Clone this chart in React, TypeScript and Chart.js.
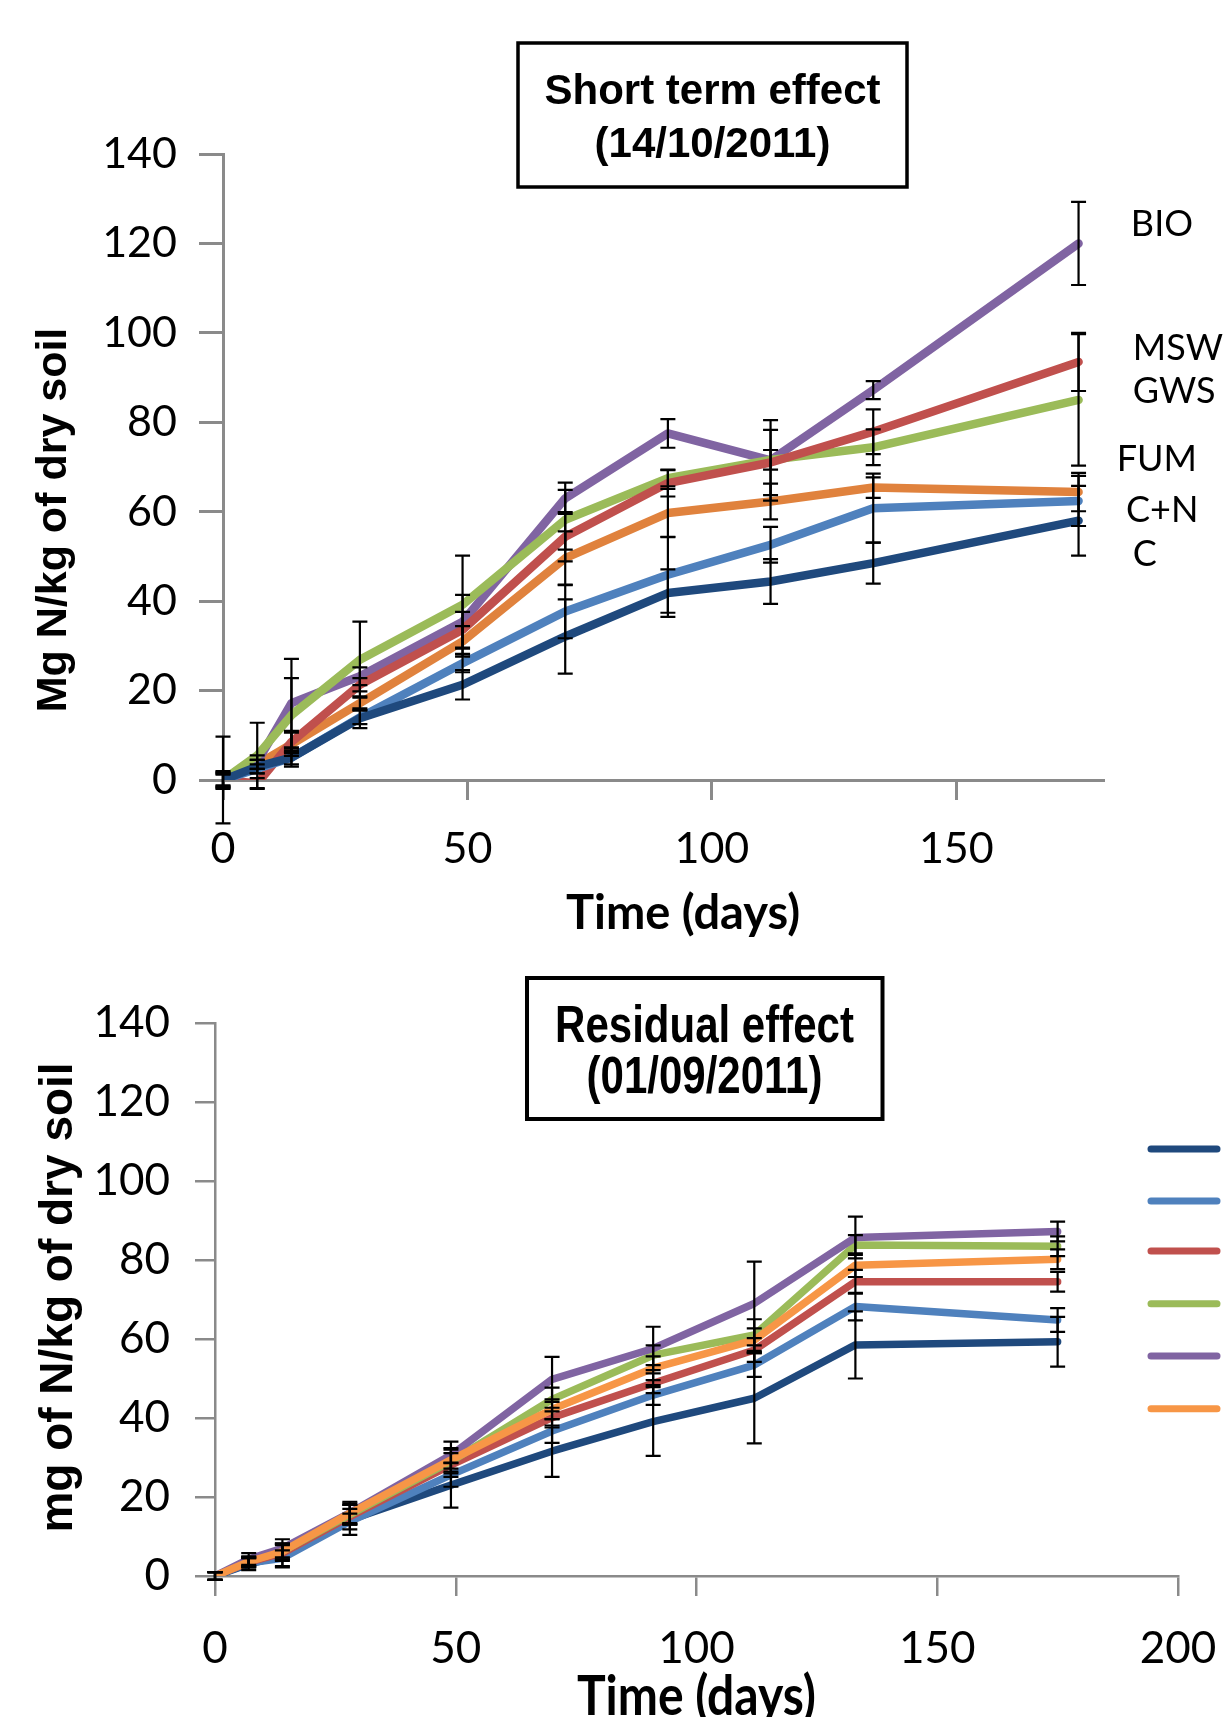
import React, { useEffect, useRef } from 'react';
import { Chart, registerables } from 'chart.js';

Chart.register(...registerables);

// ---------- data ----------
const DAYS = [0, 7, 14, 28, 49, 70, 91, 112, 133, 175];
const SERIES = ['C', 'C+N', 'MSW', 'GWS', 'BIO', 'FUM'];

// Short term effect (14/10/2011)
const SHORT_C = [0, 3, 5, 13.8, 21.3, 32.1, 41.8, 44.4, 48.5, 58.0];
const SHORT_CN = [0, 2.5, 5, 14, 26.1, 37.7, 45.9, 52.6, 60.8, 62.4];
const SHORT_MSW = [0, -0.8, 8.5, 21.3, 33.6, 54.4, 66.4, 71, 77.9, 93.5];
const SHORT_GWS = [0, 5.5, 14.5, 26.9, 39.2, 58.2, 67.5, 71.6, 74.4, 85];
const SHORT_BIO = [0, 4, 17.2, 23.2, 35.4, 63, 77.5, 71.5, 87.2, 120];
const SHORT_FUM = [0, 3.5, 8, 17.2, 31, 49.6, 59.7, 62.3, 65.4, 64.4];

const SHORT_C_ERR = [1.5, 1.5, 2, 2.2, 3.3, 8.3, 5.3, 5, 4.6, 7.8];
const SHORT_CN_ERR = [2, 1, 1.5, 1.5, 2, 6, 8.5, 4, 7.7, 5.6];
const SHORT_MSW_ERR = [1.5, 1.2, 2.5, 1.5, 4, 5.5, 3, 7.3, 5, 6.5];
const SHORT_GWS_ERR = [9.7, 7.3, 8.3, 8.5, 11, 6.7, 1.8, 2.2, 4, 14.7];
const SHORT_BIO_ERR = [1.8, 1.5, 9.9, 2, 6, 3.5, 3.2, 9, 2, 9.3];
const SHORT_FUM_ERR = [1.2, 1, 2.6, 1.5, 3.4, 6, 5.4, 4, 2.3, 4.3];

// Residual effect (01/09/2011)
const RES_C = [0, 3, 5.2, 14.2, 23, 31.6, 39.1, 45, 58.5, 59.3];
const RES_CN = [0, 3.3, 4.5, 13.8, 25.6, 36.7, 45.8, 53.4, 68.2, 64.8];
const RES_MSW = [0, 3.5, 5.8, 15, 28.1, 40.1, 48.8, 57.2, 74.5, 74.5];
const RES_GWS = [0, 3.8, 6.2, 15.5, 29, 44.7, 55.9, 61, 83.8, 83.5];
const RES_BIO = [0, 4.3, 7, 16, 30.6, 49.8, 57.6, 69, 85.7, 87.2];
const RES_FUM = [0, 3.6, 6.2, 15.9, 29.4, 42.2, 52.6, 59.7, 78.7, 80.2];

const RES_C_ERR = [1, 1.5, 3, 3.8, 5.7, 6.5, 8.7, 11.4, 8.5, 6.3];
const RES_CN_ERR = [1, 1.2, 2, 2, 3, 3, 2.5, 3, 3.5, 3];
const RES_MSW_ERR = [1, 1.2, 2, 2, 3, 2.5, 2.5, 3, 3, 2.5];
const RES_GWS_ERR = [1, 1.2, 2, 2.5, 3, 3, 2.5, 4, 2.5, 2.5];
const RES_BIO_ERR = [1, 1.5, 2.3, 2.8, 3.4, 5.7, 5.5, 10.6, 5.3, 2.5];
const RES_FUM_ERR = [1, 1.2, 2, 2.5, 3, 2.5, 3, 3, 3, 2.5];

// axes / ticks
const Y_MIN = 0;
const Y_MAX = 140;
const Y_STEP = 20;
const X_STEP = 50;
const SHORT_X_MAX = 180;
const RES_X_MAX = 200;

// side labels of the short-term chart (annotation anchor in data units)
const SHORT_LABEL_DAY = [186.1, 184.7, 186.1, 186.1, 185.7, 182.8];
const SHORT_LABEL_VAL = [50.4, 60.2, 96.6, 87, 124.2, 71.6];

// ---------- styles ----------
const COLORS_SHORT = ['#1F497D', '#4F81BD', '#C0504D', '#9BBB59', '#8064A2', '#E0823D'];
const COLORS_RES = ['#1F497D', '#4F81BD', '#C0504D', '#9BBB59', '#8064A2', '#F79646'];
const AXIS_COLOR = '#8a8a8a';

function buildDatasets(values: number[][], errors: number[][], colors: string[], lastOnTop: boolean, lw: number) {
  return SERIES.map((name, i) => ({
    label: name,
    data: DAYS.map((d, j) => ({ x: d, y: values[i][j] })),
    errors: errors[i],
    borderColor: colors[i],
    backgroundColor: colors[i],
    borderWidth: lw,
    pointRadius: 0,
    pointHoverRadius: 0,
    tension: 0,
    fill: false,
    borderCapStyle: 'round',
    borderJoinStyle: 'round',
    order: lastOnTop ? SERIES.length - i : i,
  }));
}

const errorBarPlugin = {
  id: 'errorBars',
  afterDatasetsDraw(chart: any) {
    const { ctx } = chart;
    const x = chart.scales.x;
    const y = chart.scales.y;
    ctx.save();
    ctx.strokeStyle = '#000';
    ctx.lineWidth = 2.2;
    ctx.lineCap = 'butt';
    chart.data.datasets.forEach((ds: any) => {
      const errs: number[] = ds.errors;
      if (!errs) return;
      ds.data.forEach((pt: any, j: number) => {
        const e = errs[j];
        const px = x.getPixelForValue(pt.x);
        const top = y.getPixelForValue(pt.y + e);
        const bot = y.getPixelForValue(pt.y - e);
        const hw = 7.5;
        ctx.beginPath();
        ctx.moveTo(px, top);
        ctx.lineTo(px, bot);
        ctx.moveTo(px - hw, top);
        ctx.lineTo(px + hw, top);
        ctx.moveTo(px - hw, bot);
        ctx.lineTo(px + hw, bot);
        ctx.stroke();
      });
    });
    ctx.restore();
  },
};

type TextItem = {
  text: string;
  x: number;
  y: number;
  font: string;
  align?: CanvasTextAlign;
  baseline?: CanvasTextBaseline;
  rotate?: number;
  scaleY?: number;
};

type Decor = {
  box: { x1: number; y1: number; x2: number; y2: number; lw: number };
  texts: TextItem[];
  sideLabels?: { names: string[]; days: number[]; vals: number[]; font: string };
  legend?: { names: string[]; colors: string[]; x1: number; x2: number; ys: number[]; lw: number; font: string };
};

function makeDecorPlugin(d: Decor) {
  return {
    id: 'decor',
    afterDraw(chart: any) {
      const ctx: CanvasRenderingContext2D = chart.ctx;
      ctx.save();
      ctx.fillStyle = '#000';
      const b = d.box;
      ctx.strokeStyle = '#000';
      ctx.lineWidth = b.lw;
      ctx.strokeRect(b.x1, b.y1, b.x2 - b.x1, b.y2 - b.y1);
      d.texts.forEach((t) => {
        ctx.save();
        ctx.font = t.font;
        ctx.textAlign = t.align || 'center';
        ctx.textBaseline = t.baseline || 'alphabetic';
        ctx.translate(t.x, t.y);
        if (t.rotate) ctx.rotate(t.rotate);
        if (t.scaleY) ctx.scale(1, t.scaleY);
        ctx.fillText(t.text, 0, 0);
        ctx.restore();
      });
      if (d.sideLabels) {
        const s = d.sideLabels;
        ctx.font = s.font;
        ctx.textAlign = 'left';
        ctx.textBaseline = 'middle';
        s.names.forEach((n, i) => {
          ctx.fillText(n, chart.scales.x.getPixelForValue(s.days[i]), chart.scales.y.getPixelForValue(s.vals[i]));
        });
      }
      if (d.legend) {
        const l = d.legend;
        ctx.lineCap = 'round';
        ctx.lineWidth = l.lw;
        ctx.font = l.font;
        ctx.textAlign = 'left';
        ctx.textBaseline = 'middle';
        l.names.forEach((n, i) => {
          ctx.strokeStyle = l.colors[i];
          ctx.beginPath();
          ctx.moveTo(l.x1, l.ys[i]);
          ctx.lineTo(l.x2, l.ys[i]);
          ctx.stroke();
          ctx.fillText(n, l.x2 + 16, l.ys[i]);
        });
      }
      ctx.restore();
    },
  };
}

function makeOptions(p: {
  xMax: number;
  padding: { left: number; top: number; right: number; bottom: number };
  yWidth: number;
  xHeight: number;
  yTickLen: number;
  xTickLen: number;
  yPad: number;
  xPad: number;
  tickSize: number;
  axisWidth: number;
}) {
  return {
    responsive: false,
    animation: false,
    events: [],
    layout: { autoPadding: false, padding: p.padding },
    plugins: { legend: { display: false }, tooltip: { enabled: false }, title: { display: false } },
    scales: {
      x: {
        type: 'linear',
        min: 0,
        max: p.xMax,
        ticks: {
          stepSize: X_STEP,
          includeBounds: false,
          color: '#000',
          font: { family: 'Lato', size: p.tickSize },
          padding: p.xPad,
          maxRotation: 0,
          autoSkip: false,
        },
        grid: {
          display: true,
          drawOnChartArea: false,
          drawTicks: true,
          tickLength: p.xTickLen,
          color: AXIS_COLOR,
          lineWidth: p.axisWidth,
        },
        border: { display: true, color: AXIS_COLOR, width: p.axisWidth },
        afterFit: (s: any) => {
          s.height = p.xHeight;
          s.paddingLeft = 0;
          s.paddingRight = 0;
          s.paddingTop = 0;
          s.paddingBottom = 0;
        },
      },
      y: {
        type: 'linear',
        min: Y_MIN,
        max: Y_MAX,
        ticks: {
          stepSize: Y_STEP,
          color: '#000',
          font: { family: 'Lato', size: p.tickSize },
          padding: p.yPad,
          autoSkip: false,
        },
        grid: {
          display: true,
          drawOnChartArea: false,
          drawTicks: true,
          tickLength: p.yTickLen,
          color: AXIS_COLOR,
          lineWidth: p.axisWidth,
        },
        border: { display: true, color: AXIS_COLOR, width: p.axisWidth },
        afterFit: (s: any) => {
          s.width = p.yWidth;
          s.paddingLeft = 0;
          s.paddingRight = 0;
          s.paddingTop = 0;
          s.paddingBottom = 0;
        },
      },
    },
  };
}

function ChartCanvas({ make, top, width, height }: { make: () => any; top: number; width: number; height: number }) {
  const ref = useRef<HTMLCanvasElement>(null);
  useEffect(() => {
    const chart = new Chart(ref.current as HTMLCanvasElement, make());
    return () => chart.destroy();
  }, []);
  return (
    <canvas
      ref={ref}
      width={width}
      height={height}
      style={{ position: 'absolute', left: 0, top, width, height, display: 'block' }}
    />
  );
}

const ARIAL_BOLD = (s: number) => `bold ${s}px "Liberation Sans", Arial, sans-serif`;
const LATO = (s: number, bold = false) => `${bold ? 'bold ' : ''}${s}px Lato, "Open Sans", sans-serif`;

function makeShort() {
  const values = [SHORT_C, SHORT_CN, SHORT_MSW, SHORT_GWS, SHORT_BIO, SHORT_FUM];
  const errors = [SHORT_C_ERR, SHORT_CN_ERR, SHORT_MSW_ERR, SHORT_GWS_ERR, SHORT_BIO_ERR, SHORT_FUM_ERR];
  const H = 960;
  return {
    type: 'line',
    data: { datasets: buildDatasets(values, errors, COLORS_SHORT, false, 8.5) },
    options: makeOptions({
      xMax: SHORT_X_MAX,
      padding: { left: 0, top: 154, right: 120, bottom: H - 780 - 100 },
      yWidth: 223,
      xHeight: 100,
      yTickLen: 24,
      xTickLen: 20,
      yPad: 22,
      xPad: 23,
      tickSize: 43,
      axisWidth: 3,
    }),
    plugins: [
      errorBarPlugin,
      makeDecorPlugin({
        box: { x1: 518, y1: 43, x2: 907, y2: 187, lw: 3.5 },
        texts: [
          { text: 'Short term effect', x: 712.5, y: 104, font: ARIAL_BOLD(42) },
          { text: '(14/10/2011)', x: 712.5, y: 157, font: ARIAL_BOLD(42) },
          { text: 'Mg N/kg of dry soil', x: 54, y: 520, font: ARIAL_BOLD(43), baseline: 'middle', rotate: -Math.PI / 2 },
          { text: 'Time (days)', x: 683, y: 929, font: LATO(47, true) },
        ],
        sideLabels: { names: SERIES, days: SHORT_LABEL_DAY, vals: SHORT_LABEL_VAL, font: LATO(36) },
      }),
    ],
  };
}

function makeResidual() {
  const values = [RES_C, RES_CN, RES_MSW, RES_GWS, RES_BIO, RES_FUM];
  const errors = [RES_C_ERR, RES_CN_ERR, RES_MSW_ERR, RES_GWS_ERR, RES_BIO_ERR, RES_FUM_ERR];
  const H = 787;
  return {
    type: 'line',
    data: { datasets: buildDatasets(values, errors, COLORS_RES, true, 7.5) },
    options: makeOptions({
      xMax: RES_X_MAX,
      padding: { left: 0, top: 93, right: 45, bottom: H - 646 - 100 },
      yWidth: 215,
      xHeight: 100,
      yTickLen: 20,
      xTickLen: 20,
      yPad: 25,
      xPad: 26,
      tickSize: 44,
      axisWidth: 2.5,
    }),
    plugins: [
      errorBarPlugin,
      makeDecorPlugin({
        box: { x1: 527, y1: 48, x2: 882.5, y2: 189, lw: 4 },
        texts: [
          { text: 'Residual effect', x: 704.5, y: 112.4, font: ARIAL_BOLD(42), scaleY: 1.22 },
          { text: '(01/09/2011)', x: 704.5, y: 162.7, font: ARIAL_BOLD(42), scaleY: 1.22 },
          { text: 'mg of N/kg of dry soil', x: 59, y: 367.5, font: ARIAL_BOLD(46), baseline: 'middle', rotate: -Math.PI / 2 },
          { text: 'Time (days)', x: 696.5, y: 785, font: LATO(48, true), scaleY: 1.15 },
        ],
        legend: {
          names: SERIES,
          colors: COLORS_RES,
          x1: 1151,
          x2: 1217,
          ys: [219, 271, 321, 373.7, 426, 478.7],
          lw: 7,
          font: LATO(36),
        },
      }),
    ],
  };
}

export default function App() {
  return (
    <div
      style={{
        position: 'absolute',
        left: 0,
        top: 0,
        width: 1223,
        height: 1717,
        overflow: 'hidden',
        background: '#fff',
      }}
    >
      <ChartCanvas make={makeShort} top={0} width={1223} height={960} />
      <ChartCanvas make={makeResidual} top={930} width={1223} height={787} />
    </div>
  );
}
